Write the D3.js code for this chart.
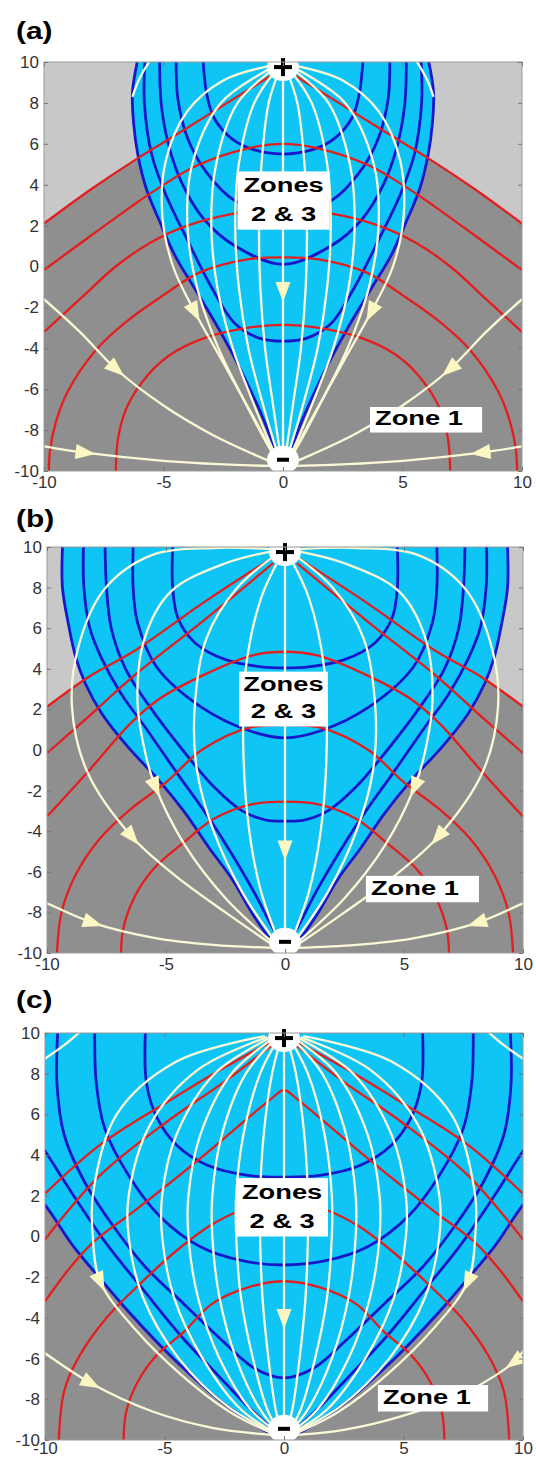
<!DOCTYPE html>
<html>
<head>
<meta charset="utf-8">
<script src="https://cdn.jsdelivr.net/npm/d3@7"></script>
<style>
  body { margin: 0; background: #fff; }
  svg { display: block; }
</style>
</head>
<body>
<script>
// axis ticks
const yTicks = [-10, -8, -6, -4, -2, 0, 2, 4, 6, 8, 10]
const xTicks = [-10, -5, 0, 5, 10]

// every curve below is the right half (x >= 0), the left half is its mirror

// ---- (a)
const cyanA = [[6.1,10],[6.3,8.5],[6.25,7],[6.07,5.45],[5.72,3.8],[5.16,2.2],[4.53,0.56],[3.7,-1.07],[2.86,-2.7],[2.1,-4.3],[1.4,-5.96],[0.77,-7.6],[0.25,-9.2],[0,-9.8]]
const darkA = [[0,9],[2.2,8.1],[4.25,6.6],[6.07,5.3],[8,3.8],[10,2.1]]
const blueA = [
  [[3.34,10],[3.2,8.5],[2.9,7.3],[2.16,6.27],[1.2,5.7],[0,5.5]],
  [[4.47,10],[4.4,8.2],[4.0,6.3],[3.2,4.6],[2.0,3.2],[0,2.5]],
  [[5.16,10],[5.1,8],[4.8,6],[4.2,4],[3.3,2.3],[2,1.0],[0,0.1]],
  [[5.78,10],[5.8,8],[5.5,5.5],[4.9,3.5],[4.0,1.3],[3.0,-1],[2,-2.8],[1,-3.5],[0,-3.65]]
]
const redA = [
  [[0.4,9.4],[2.2,8.1],[4.25,6.6],[6.07,5.3],[8,3.8],[10,2.1]],
  [[0,6.0],[1.46,5.78],[3.56,4.96],[5.23,3.82],[6.35,2.93],[8.0,1.54],[10,-0.17]],
  [[0,2.85],[2,2.6],[4,2.0],[5.5,1.2],[7,0],[8.5,-1.6],[10,-3.2]],
  [[0,0.45],[1.5,0.35],[3.5,-0.3],[5,-1.4],[6.5,-2.65],[7.8,-4.05],[9,-6.1],[9.5,-7.6],[9.75,-9],[9.8,-10.5]],
  [[0,-2.85],[1.5,-3.0],[3.3,-3.5],[4.7,-4.3],[5.65,-5.3],[6.5,-6.8],[6.9,-8.4],[7.0,-10.5]]
]
const whiteA = [
  { pts: [[0,9.6],[0,-1.2],[0,-9.6]], arrow: 1 },
  { pts: [[0.15,9.6],[0.6,8],[0.9,5],[1.0,2],[0.95,-1],[0.75,-4],[0.45,-6.5],[0.2,-8.5],[0.05,-9.6]] },
  { pts: [[0.3,9.6],[1.2,8],[1.85,5],[2.0,2],[1.85,-1],[1.45,-4],[0.9,-6.5],[0.4,-8.5],[0.1,-9.6]] },
  { pts: [[0.4,9.65],[1.9,8],[2.8,5],[3.0,2],[2.75,-1],[2.1,-4],[1.3,-6.5],[0.6,-8.5],[0.15,-9.6]] },
  { pts: [[0.5,9.7],[2.6,8],[3.8,5],[4.0,2],[3.6,-1],[2.7,-4],[1.65,-6.5],[0.75,-8.5],[0.2,-9.6]] },
  { pts: [[0.6,9.8],[2.5,9.1],[4.0,7.6],[4.9,5.2],[5.05,2.5],[4.6,0],[3.7,-2.2],[2.6,-4.5],[1.6,-6.6],[0.7,-8.5],[0.2,-9.6]], arrow: 6 },
  { pts: [[5.5,10.2],[6.0,9.2],[6.3,8.3]] },
  { pts: [[10.3,-1.3],[10,-1.6],[8.5,-3.2],[7,-5.0],[5,-6.8],[3,-8.2],[1.2,-9.2],[0.4,-9.6]], arrow: 3 },
  { pts: [[10.3,-8.75],[10,-8.8],[8.3,-9.1],[5,-9.5],[2,-9.7],[0.5,-9.75]], arrow: 2 }
]

// ---- (b)
const cyanB = [[9.35,10],[9.35,8],[9.1,6.2],[8.8,4.6],[8.4,3.3],[7.7,1.8],[6.6,0.15],[5.3,-1.5],[4.2,-3.1],[3.2,-4.8],[2.2,-6.4],[1.4,-8.0],[0.55,-9.4],[0,-9.85]]
const darkB = [[0,9.5],[3.5,7.2],[6.3,4.9],[8.25,3.6],[10,2.13]]
const blueB = [
  [[4.72,10],[4.72,8],[4.5,6.5],[3.8,5.3],[2.5,4.45],[1,4.1],[0,4.05]],
  [[6.38,10],[6.38,8],[6.2,6.3],[5.4,4.1],[3.5,2.1],[1.5,0.95],[0,0.6]],
  [[7.56,10],[7.5,8],[7.3,6],[6.7,4],[5.6,2],[4.3,0],[3.0,-1.8],[1.8,-3.0],[0.8,-3.45],[0,-3.5]],
  [[8.47,10],[8.45,8],[8.2,6],[7.7,4.5],[6.9,2.8],[5.8,1.0],[4.5,-1.2],[3.4,-3.0],[2.3,-5.0],[1.3,-7.0],[0.5,-8.8],[0.05,-9.7]]
]
const redB = [
  [[0.5,9.5],[3.5,7.2],[6.3,4.9],[8.25,3.6],[10,2.13]],
  [[0.5,9.2],[3.5,6.3],[6.3,3.7],[8.3,1.6],[10,-0.16]],
  [[0,4.84],[1.4,4.65],[3.5,3.65],[5.3,2.5],[6.5,1.3],[8.3,-1.1],[10,-3.28]],
  [[0,1.23],[1.5,1.1],[3.5,0.0],[5.0,-1.6],[6.5,-2.93],[7.8,-4.4],[8.8,-6.16],[9.4,-8.05],[9.6,-10.5]],
  [[0,-2.54],[1.5,-2.7],[3,-3.4],[4.3,-4.6],[5.5,-5.83],[6.3,-7.19],[6.8,-8.83],[6.9,-10.5]]
]
const whiteB = [
  { pts: [[0,9.6],[0,-4.9],[0,-9.6]], arrow: 1 },
  { pts: [[0.2,9.5],[1.0,7.5],[1.65,4],[1.75,0],[1.5,-4],[1.0,-7],[0.2,-9.6]] },
  { pts: [[0.4,9.6],[2.0,8],[3.3,5.5],[3.8,2],[3.7,-1],[3.0,-4],[1.8,-7],[0.3,-9.6]] },
  { pts: [[0.5,9.8],[2.5,9.2],[4.8,7.8],[5.9,5.5],[6.2,2.5],[5.9,0],[5.45,-1.8],[4.2,-4.7],[2.5,-7.3],[0.4,-9.6]], arrow: 6 },
  { pts: [[0.6,9.9],[3,9.95],[5.6,9.6],[7.6,7.9],[8.7,5],[8.95,2.1],[8.3,-1.1],[6.45,-4.25],[4.6,-6.2],[2.5,-8.0],[0.4,-9.7]], arrow: 7 },
  { pts: [[10.3,-7.4],[10,-7.55],[8.1,-8.5],[5.5,-9.25],[3,-9.6],[0.5,-9.75]], arrow: 2 }
]

// ---- (c)
const cyanC = [[10.6,10.5],[10.6,2.3],[10,1.55],[8.8,-0.5],[7.7,-2.06],[6.5,-3.7],[5.2,-5.33],[4,-6.7],[2.8,-7.95],[1.7,-8.9],[0.7,-9.6],[0,-9.85]]
const darkC = [[0,10.5],[10.5,10.5]]
const blueC = [
  [[5.8,10],[5.75,7.5],[5.3,5.8],[4.5,4.5],[3.2,3.5],[1.5,3.0],[0,2.92]],
  [[7.92,10],[7.85,7.5],[7.5,5.3],[6.5,3.0],[5.2,1.0],[3.5,-0.5],[1.7,-1.2],[0,-1.4]],
  [[9.47,10],[9.5,7.5],[9.2,5],[8.4,2.8],[7.2,0.6],[5.8,-1.5],[4.2,-3.3],[2.6,-5.1],[1.2,-6.5],[0,-6.95]],
  [[10.6,5.2],[10,4.2],[8.8,2.0],[7.4,-0.4],[5.9,-2.6],[4.3,-4.9],[2.7,-6.9],[1.3,-8.6],[0.2,-9.75]]
]
const redC = [
  [[0.5,9.6],[2.5,8.3],[4.9,6.6],[7.7,4.5],[10,2.1]],
  [[0.5,9.4],[2.5,7.6],[4.9,5.64],[7.7,3.0],[10,-0.15]],
  [[0,7.2],[0.5,6.8],[3.5,3.84],[6.3,1.22],[8.0,-0.3],[9.09,-1.73],[10,-3.2]],
  [[0,1.6],[1.5,1.4],[3,0.6],[4.5,-0.7],[6,-2.3],[7.5,-4.1],[8.6,-5.95],[9.2,-7.6],[9.44,-10.5]],
  [[0,-2.2],[1.5,-2.5],[3,-3.3],[4.2,-4.7],[5.3,-5.8],[6.1,-7.1],[6.6,-8.6],[6.72,-10.5]]
]
const whiteC = [
  { pts: [[0,9.6],[0,-4.0],[0,-9.6]], arrow: 1 },
  { pts: [[0.15,9.6],[0.5,8],[0.85,5],[1.0,2],[1.0,0],[0.9,-3],[0.65,-6],[0.35,-8.5],[0.1,-9.6]] },
  { pts: [[0.3,9.6],[1.0,8],[1.7,5],[2.0,2],[2.0,0],[1.8,-3],[1.3,-6],[0.7,-8.5],[0.2,-9.6]] },
  { pts: [[0.4,9.65],[1.6,8],[2.6,5],[3.0,2],[3.0,0],[2.7,-3],[2.0,-6],[1.0,-8.5],[0.25,-9.6]] },
  { pts: [[0.5,9.7],[2.2,8],[3.5,5],[4.0,2],[4.0,0],[3.6,-3],[2.7,-6],[1.4,-8.5],[0.3,-9.6]] },
  { pts: [[0.6,9.75],[2.9,8],[4.5,5],[5.1,2],[5.1,0],[4.6,-3],[3.4,-6],[1.8,-8.5],[0.35,-9.65]] },
  { pts: [[0.7,9.8],[3.6,8.2],[5.6,5.5],[6.5,2],[6.5,0],[5.9,-3],[4.4,-6],[2.3,-8.4],[0.4,-9.65]] },
  { pts: [[0.8,9.85],[4.5,8.6],[7.0,6],[8.0,2],[8.0,0],[7.7,-2.2],[6.2,-4.6],[4.3,-6.8],[2.3,-8.6],[0.45,-9.7]], arrow: 5 },
  { pts: [[8.4,10.2],[9.2,9.4],[10.3,8.5]] },
  { pts: [[10.3,-5.4],[10,-5.66],[9.65,-6.15],[7.7,-7.6],[5,-8.8],[2.5,-9.5],[0.5,-9.75]], arrow: 2, single: true },
  { pts: [[-10.3,-5.5],[-10,-5.74],[-8.1,-7.2],[-5.5,-8.6],[-3,-9.4],[-0.5,-9.75]], arrow: 2, single: true }
]

const panels = [
  { label: '(a)', labelY: 39, frame: [44, 522, 62, 471], cyan: cyanA, dark: darkA, edge: cyanA,
    blue: blueA, red: redA, white: whiteA, zones: [-1.9, 1.95, 4.65, 1.8], zone1: [3.64, 8.33, -6.87, -8.12], pad: 5 },
  { label: '(b)', labelY: 527, frame: [47, 523, 547, 953], cyan: cyanB, dark: darkB, edge: cyanB,
    blue: blueB, red: redB, white: whiteB, zones: [-1.93, 1.8, 3.86, 1.16], zone1: [3.4, 8.15, -6.2, -7.5], pad: 5 },
  { label: '(c)', labelY: 1008, frame: [45, 523, 1033, 1440], cyan: cyanC, dark: darkC, edge: cyanC.slice(1),
    blue: blueC, red: redC, white: whiteC, zones: [-2.0, 1.84, 2.87, 0.0], zone1: [3.93, 8.54, -7.3, -8.6], pad: 2 }
]

const width = 536, height = 1460
const col = { light: '#c8c8c8', dark: '#8f8f8f', cyan: '#0fc5f5', blue: '#1717cc', red: '#e41e1e', white: '#fbf8d6', arrow: '#fbf6c2' }

const svg = d3.select('body').append('svg')
  .attr('width', width)
  .attr('height', height)
  .style('font-family', 'Liberation Sans, Arial, sans-serif')
const defs = svg.append('defs')

const mirror = pts => pts.map(d => [-d[0], d[1]])
// symmetric curves that meet on the centre line become one path
const halves = pts => {
  if (pts.every(d => d[0] === 0)) return [pts]
  if (pts[0][0] === 0) return [[...mirror(pts).reverse(), ...pts.slice(1)]]
  if (pts[pts.length - 1][0] === 0) return [[...pts, ...mirror(pts).reverse().slice(1)]]
  return [pts, mirror(pts)]
}

let drawPanel = (p, k) => {
  const [x0, x1, y0, y1] = p.frame
  const x = d3.scaleLinear().domain([-10, 10]).range([x0, x1])
  const y = d3.scaleLinear().domain([-10, 10]).range([y1, y0])
  const smooth = d3.line()
    .x(d => x(d[0]))
    .y(d => y(d[1]))
    .curve(d3.curveCatmullRom.alpha(0.5))

  defs.append('clipPath').attr('id', 'clip' + k)
    .append('rect')
    .attr('x', x0).attr('y', y0)
    .attr('width', x1 - x0).attr('height', y1 - y0)

  const plot = svg.append('g').attr('clip-path', `url(#clip${k})`)

  // zones background
  plot.append('rect')
    .attr('x', x0).attr('y', y0)
    .attr('width', x1 - x0).attr('height', y1 - y0)
    .attr('fill', col.light)

  const darkTop = [...mirror(p.dark).reverse(), ...p.dark.slice(1)]
  plot.append('path')
    .attr('d', smooth(darkTop) + `L${x(10.5)},${y(-10.5)}L${x(-10.5)},${y(-10.5)}Z`)
    .attr('fill', col.dark)

  const top = p.cyan[0][0]
  const cyanPts = [[top, 11], ...p.cyan, ...mirror(p.cyan).reverse().slice(1), [-top, 11]]
  plot.append('path')
    .attr('d', smooth(cyanPts) + 'Z')
    .attr('fill', col.cyan)

  // blue curves, boundary first
  const blues = [p.edge, ...p.blue].flatMap(halves)
  plot.selectAll('path.blue')
    .data(blues)
    .enter()
    .append('path')
    .attr('class', 'blue')
    .attr('d', smooth)
    .attr('fill', 'none')
    .attr('stroke', col.blue)
    .attr('stroke-width', 2.8)

  plot.selectAll('path.red')
    .data(p.red.flatMap(halves))
    .enter()
    .append('path')
    .attr('class', 'red')
    .attr('d', smooth)
    .attr('fill', 'none')
    .attr('stroke', col.red)
    .attr('stroke-width', 2.3)

  // field lines with their arrow heads
  const lines = p.white.flatMap(w => (w.single ? [w.pts] : halves(w.pts)).map(pts => ({ pts, arrow: w.arrow })))
  plot.selectAll('path.white')
    .data(lines)
    .enter()
    .append('path')
    .attr('class', 'white')
    .attr('d', d => smooth(d.pts))
    .attr('fill', 'none')
    .attr('stroke', col.white)
    .attr('stroke-width', 2.3)

  lines.filter(d => d.arrow !== undefined).forEach(d => {
    const i = d.arrow
    const a = d.pts[i - 1], b = d.pts[i + 1], c = d.pts[i]
    const ang = Math.atan2(y(b[1]) - y(a[1]), x(b[0]) - x(a[0]))
    plot.append('path')
      .attr('d', 'M11,0L-9,-7.5L-9,7.5Z')
      .attr('transform', `translate(${x(c[0])},${y(c[1])}) rotate(${ang * 180 / Math.PI})`)
      .attr('fill', col.arrow)
  })

  // charges
  const charge = (cy, sign) => {
    const g = svg.append('g').attr('transform', `translate(${x(0)},${y(cy)})`)
    g.append('ellipse').attr('rx', 16).attr('ry', 14).attr('fill', '#fff')
    if (sign > 0) {
      g.append('rect').attr('x', -9).attr('y', -2).attr('width', 18).attr('height', 4).attr('fill', '#000')
      g.append('rect').attr('x', -2).attr('y', -9).attr('width', 4).attr('height', 18).attr('fill', '#000')
    } else {
      g.append('rect').attr('x', -6).attr('y', -2).attr('width', 12).attr('height', 4).attr('fill', '#000')
    }
  }
  charge(9.75, 1)
  charge(-9.45, -1)

  // labels
  const [zx0, zx1, zy0, zy1] = p.zones
  const bx = x(zx0), bw = x(zx1) - x(zx0), by = y(zy0), bh = y(zy1) - y(zy0)
  svg.append('rect').attr('x', bx).attr('y', by).attr('width', bw).attr('height', bh).attr('fill', '#fff')
  ;['Zones', '2 & 3'].forEach((t, j) => {
    svg.append('text')
      .attr('transform', `translate(${bx + bw / 2},${by + (j ? 0.85 : 0.36) * bh}) scale(1.3,1)`)
      .attr('text-anchor', 'middle')
      .style('font-size', '21px')
      .style('font-weight', 'bold')
      .text(t)
  })
  const [ux0, ux1, uy0, uy1] = p.zone1
  svg.append('rect')
    .attr('x', x(ux0)).attr('y', y(uy0))
    .attr('width', x(ux1) - x(ux0)).attr('height', y(uy1) - y(uy0))
    .attr('fill', '#fff')
  svg.append('text')
    .attr('transform', `translate(${x(ux0) + 5},${y(uy0) + 0.72 * (y(uy1) - y(uy0))}) scale(1.3,1)`)
    .style('font-size', '21px')
    .style('font-weight', 'bold')
    .text('Zone 1')

  // axes box and ticks, Matlab style
  svg.append('rect')
    .attr('x', x0).attr('y', y0)
    .attr('width', x1 - x0).attr('height', y1 - y0)
    .attr('fill', 'none').attr('stroke', '#9a9a9a').attr('stroke-width', 1)
  svg.append('g').attr('transform', `translate(${x0},0)`)
    .call(d3.axisLeft(y).tickValues(yTicks).tickSize(-4).tickPadding(5).tickFormat(d => String(d)))
  svg.append('g').attr('transform', `translate(${x1},0)`)
    .call(d3.axisRight(y).tickValues(yTicks).tickSize(-4).tickFormat(''))
  svg.append('g').attr('transform', `translate(0,${y1})`)
    .call(d3.axisBottom(x).tickValues(xTicks).tickSize(-4).tickPadding(p.pad).tickFormat(d => String(d)))
  svg.append('g').attr('transform', `translate(0,${y0})`)
    .call(d3.axisTop(x).tickValues(xTicks).tickSize(-4).tickFormat(''))

  svg.append('text')
    .attr('transform', `translate(16,${p.labelY}) scale(1.3,1)`)
    .style('font-size', '23px')
    .style('font-weight', 'bold')
    .text(p.label)
}

panels.forEach(drawPanel)

svg.selectAll('.domain').remove()
svg.selectAll('.tick line').attr('stroke', '#777')
svg.selectAll('.tick text')
  .style('font-size', '17px')
  .style('font-family', 'Liberation Sans, Arial, sans-serif')
  .attr('fill', '#333')
</script>
</body>
</html>
